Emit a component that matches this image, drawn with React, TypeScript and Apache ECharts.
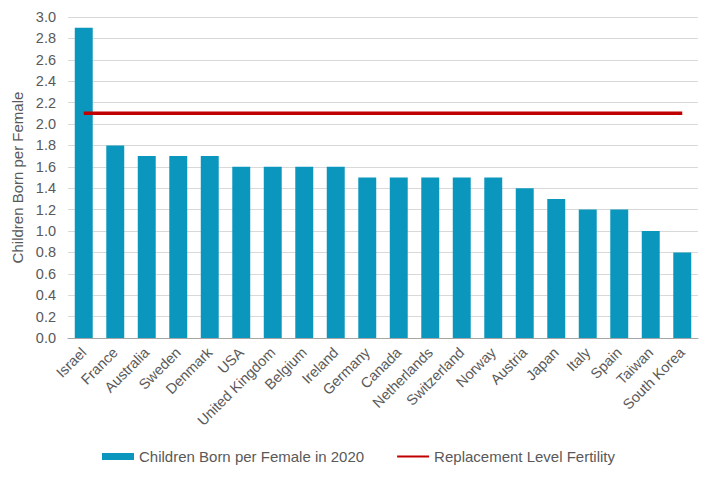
import React, { useEffect, useRef } from "react";
import * as echarts from "echarts";

const categories = [
  "Israel", "France", "Australia", "Sweden", "Denmark", "USA", "United Kingdom",
  "Belgium", "Ireland", "Germany", "Canada", "Netherlands", "Switzerland", "Norway",
  "Austria", "Japan", "Italy", "Spain", "Taiwan", "South Korea",
];
const births2020 = [2.9, 1.8, 1.7, 1.7, 1.7, 1.6, 1.6, 1.6, 1.6, 1.5, 1.5, 1.5, 1.5, 1.5, 1.4, 1.3, 1.2, 1.2, 1.0, 0.8];
const replacementLevel = categories.map(() => 2.1);

export default function App() {
  const ref = useRef<HTMLDivElement>(null);
  useEffect(() => {
    if (!ref.current) return;
    const chart = echarts.init(ref.current, undefined, { renderer: "svg" });
    chart.setOption({
      animation: false,
      backgroundColor: "#ffffff",
      textStyle: { fontFamily: "Liberation Sans, Arial, sans-serif" },
      grid: { left: 68, right: 17, top: 17, bottom: 140 },
      legend: {
        bottom: 9,
        left: 97,
        itemWidth: 32,
        itemHeight: 7,
        itemGap: 32,
        textStyle: { color: "#595959", fontSize: 15 },
        data: [
          { name: "Children Born per Female in 2020", icon: "rect" },
          { name: "Replacement Level Fertility", itemStyle: { opacity: 0 } },
        ],
      },
      xAxis: {
        type: "category",
        data: categories,
        axisLine: { lineStyle: { color: "#a6a6a6" } },
        axisTick: { show: false },
        axisLabel: { rotate: 45, color: "#595959", fontSize: 14.5, interval: 0, margin: 12 },
      },
      yAxis: {
        type: "value",
        min: 0,
        max: 3,
        interval: 0.2,
        name: "Children Born per Female",
        nameLocation: "middle",
        nameGap: 41,
        nameTextStyle: { color: "#595959", fontSize: 15 },
        axisLabel: {
          color: "#595959",
          fontSize: 14.5,
          margin: 12,
          formatter: (v: number) => v.toFixed(1),
        },
        axisLine: { show: false },
        axisTick: { show: false },
        splitLine: { lineStyle: { color: "#d9d9d9" } },
      },
      series: [
        {
          name: "Children Born per Female in 2020",
          type: "bar",
          data: births2020,
          barWidth: "57%",
          itemStyle: { color: "#0b97bd" },
        },
        {
          name: "Replacement Level Fertility",
          type: "line",
          data: replacementLevel,
          symbol: "none",
          lineStyle: { color: "#c00000", width: 3.5 },
          itemStyle: { color: "#c00000" },
        },
      ],
    });
    return () => chart.dispose();
  }, []);
  return (
    <div
      ref={ref}
      style={{ position: "absolute", left: 0, top: 0, width: 715, height: 478 }}
    />
  );
}
